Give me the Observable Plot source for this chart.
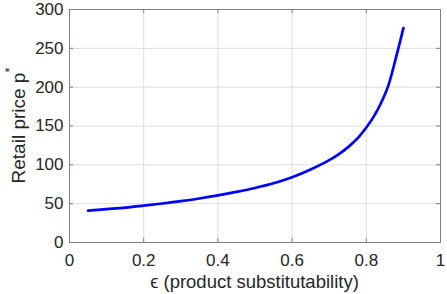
<!DOCTYPE html>
<html><head><meta charset="utf-8">
<script src="https://cdn.jsdelivr.net/npm/d3@7"></script>
<script src="https://cdn.jsdelivr.net/npm/@observablehq/plot@0.6"></script>
<style>body{margin:0;background:#fff}</style>
</head><body><div id="chart"></div>
<script>
const epsilon = [0.05,0.1,0.15,0.2,0.25,0.3,0.35,0.4,0.45,0.5,0.55,0.6,0.65,0.7,0.73,0.75,0.78,0.8,0.82,0.84,0.86,0.88,0.9];
const price   = [41,43,45,47.5,50.2,53.2,56.7,60.7,65.2,70.2,76.2,84,94,106,115,122.5,136,148,162,180,203,238,276];
const xTicks = [0,0.2,0.4,0.6,0.8,1];
const yTicks = [0,50,100,150,200,250,300];
const xLabel = "ϵ (product substitutability)";
const yLabel = "Retail price p";
const yLabelSup = "*";

const data = epsilon.map((e,i)=>({e, p: price[i]}));
const W=447,H=294, mL=69, mR=7, mT=9, mB=52;
const plotW = W-mL-mR, plotH = H-mT-mB;
const tick = 4;
const ink = "#262626";
const box = "#808080";
const chart = Plot.plot({
  width: W, height: H, marginLeft: mL, marginRight: mR, marginTop: mT, marginBottom: mB,
  style: {fontFamily: "'Liberation Sans', Arial, sans-serif", color: ink, background: "#fff", overflow: "visible"},
  x: {domain:[0,1], label: null},
  y: {domain:[0,300], label: null},
  marks: [
    Plot.gridX(xTicks, {stroke:"#dedede", strokeOpacity:1}),
    Plot.gridY(yTicks, {stroke:"#dedede", strokeOpacity:1}),
    Plot.line(data, {x:"e", y:"p", stroke:"#0000ff", strokeWidth:2.7, curve:"monotone-x"}),
    Plot.frame({stroke:box}),
    Plot.tickX(xTicks, {x: d=>d, insetTop: plotH - tick, stroke:box}),
    Plot.tickX(xTicks, {x: d=>d, insetBottom: plotH - tick, stroke:box}),
    Plot.tickY(yTicks, {y: d=>d, insetRight: plotW - tick, stroke:box}),
    Plot.tickY(yTicks, {y: d=>d, insetLeft: plotW - tick, stroke:box}),
    Plot.axisX(xTicks, {tickSize:0, tickPadding: 11, fontSize: 17, tickFormat: d=>String(d), label: null}),
    Plot.axisY(yTicks, {tickSize:0, tickPadding: 6, fontSize: 17, tickFormat: d=>String(d), label: null})
  ]
});
document.getElementById("chart").appendChild(chart);
const svg = d3.select(chart);
svg.append("text").attr("x", mL+plotW/2).attr("y", 288).attr("text-anchor","middle")
  .attr("font-size",18.5).attr("fill",ink).text(xLabel);
const yl = svg.append("text").attr("transform", `translate(25,${mT+plotH/2}) rotate(-90)`)
  .attr("text-anchor","middle").attr("font-size",19).attr("fill",ink);
yl.append("tspan").text(yLabel);
yl.append("tspan").attr("font-size",13).attr("dy",-11).text(yLabelSup);
</script>
</body></html>
